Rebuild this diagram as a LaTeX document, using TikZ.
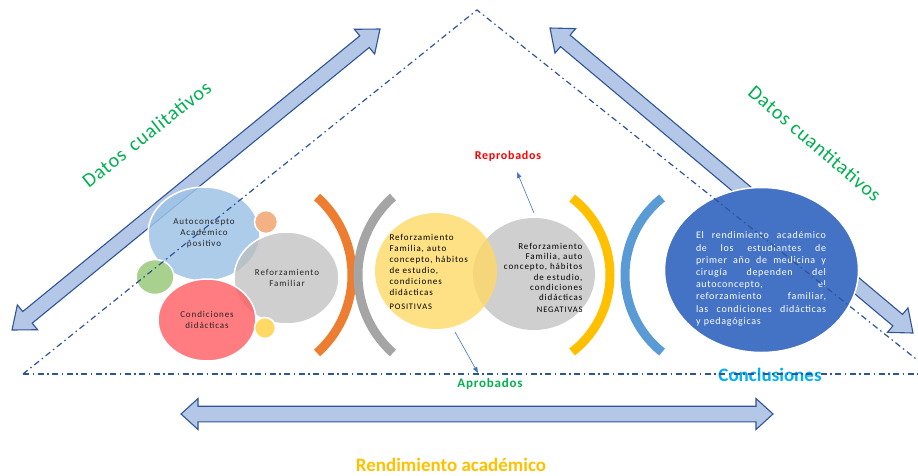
\documentclass[tikz,border=0pt]{standalone}
\usepackage{fontspec}
\setmainfont{Carlito}
\newfontfamily\lsfont[LetterSpace=10]{Carlito}
\newfontfamily\lsfontw[LetterSpace=7]{Carlito}
\newfontfamily\lsbig[LetterSpace=4]{Carlito}
\newfontfamily\lsbold[LetterSpace=6]{Carlito}
\usetikzlibrary{calc,shapes.geometric,arrows.meta}

\definecolor{ddblue}{HTML}{2F5597}
\definecolor{arrfill}{HTML}{B4C7E7}
\definecolor{cblue}{HTML}{9DC3E6}
\definecolor{cgray}{HTML}{BFBFBF}
\definecolor{cred}{HTML}{FF5B61}
\definecolor{cgreen}{HTML}{A9D18E}
\definecolor{corange}{HTML}{F4B183}
\definecolor{cyellow}{HTML}{FFD966}
\definecolor{arcorange}{HTML}{ED7D31}
\definecolor{arcgray}{HTML}{A5A5A5}
\definecolor{arcyellow}{HTML}{FFC000}
\definecolor{arcblue}{HTML}{5B9BD5}
\definecolor{darkc}{HTML}{4472C4}
\definecolor{tgreen}{HTML}{00B050}
\definecolor{tcyan}{HTML}{00B0F0}
\definecolor{tred}{HTML}{FF0000}
\definecolor{tgold}{HTML}{FFC000}

\tikzset{
  blockarrow/.style={fill=arrfill, draw=ddblue, line width=1.1pt, line join=miter},
  ddline/.style={draw=ddblue, line width=1.2pt, dash pattern=on 6pt off 3.5pt on 1.5pt off 3.5pt},
  bubble/.style={ellipse, draw=white, line width=1.5pt, inner sep=0pt},
  arcline/.style={line width=9pt},
  ptr/.style={draw=darkc, line width=0.6pt, -{Triangle[length=6pt,width=4.5pt]}},
  ctext/.style={font=\lsfont\fontsize{9}{11}\selectfont, text=black!85, align=center},
  bigtext/.style={font=\lsbig\fontsize{20}{22}\selectfont, text=tgreen},
}

\newcommand\blockarrow[5]{%
  \path[blockarrow] (#1)
   -- ($(#1)!#3!(#2)!#4!90:(#2)$)
   -- ($(#1)!#3!(#2)!#5!90:(#2)$)
   -- ($(#2)!#3!(#1)!#5!-90:(#1)$)
   -- ($(#2)!#3!(#1)!#4!-90:(#1)$)
   -- (#2)
   -- ($(#2)!#3!(#1)!#4!90:(#1)$)
   -- ($(#2)!#3!(#1)!#5!90:(#1)$)
   -- ($(#1)!#3!(#2)!#5!-90:(#2)$)
   -- ($(#1)!#3!(#2)!#4!-90:(#2)$)
   -- cycle;}
\newcommand\jline[1]{\hbox to 130pt{#1}}

\begin{document}
\begin{tikzpicture}[x=1pt,y=-1pt]
\useasboundingbox (0,0) rectangle (918,475);
\clip (0,0) rectangle (918,475);

% block arrows
\coordinate (LA1) at (12,330); \coordinate (LA2) at (380,29);
\coordinate (RA1) at (550,28); \coordinate (RA2) at (913,333);
\coordinate (HA1) at (181,414); \coordinate (HA2) at (773,414);
\blockarrow{LA1}{LA2}{20pt}{16pt}{7.5pt}
\blockarrow{RA1}{RA2}{20pt}{16pt}{7.5pt}
\blockarrow{HA1}{HA2}{17pt}{15.5pt}{7.8pt}

% left cluster
\node[bubble, fill=cblue, fill opacity=0.85, minimum width=112pt, minimum height=94pt] (auto) at (204,234) {};
\node[bubble, fill=cgreen, minimum width=38pt, minimum height=35pt] (green) at (155,277) {};
\node[bubble, fill=corange, minimum width=23pt, minimum height=23pt] (orange) at (266,222) {};
\node[bubble, fill=cgray, fill opacity=0.75, minimum width=105pt, minimum height=92pt] (refam) at (286.5,278) {};
\node[bubble, fill=cred, fill opacity=0.8, minimum width=98pt, minimum height=82pt] (cond) at (207,320) {};
\node[bubble, fill=cyellow, minimum width=21pt, minimum height=21pt] (yel) at (265,328) {};
\node[ctext] (autot) at (204,233.5) {Autoconcepto\\Académico\\positivo};
\node[ctext] (refamt) at (287,277.5) {Reforzamiento\\Familiar};
\node[ctext] (condt) at (207,320) {Condiciones\\didácticas};

% arcs
\draw[arcline, arcorange] ($(247.6,275)+(-48.3:104.4)$) arc[start angle=-48.3, end angle=48.3, radius=104.4];
\draw[arcline, arcgray] ($(462.4,275)+(131.7:104.4)$) arc[start angle=131.7, end angle=228.3, radius=104.4];
\draw[arcline, arcyellow] ($(513,275)+(-52.5:97)$) arc[start angle=-52.5, end angle=52.5, radius=97];
\draw[arcline, arcblue] ($(723.6,275)+(128.6:98.6)$) arc[start angle=128.6, end angle=231.4, radius=98.6];

% Venn
\node[bubble, draw=none, fill=cgray, fill opacity=0.75, minimum width=122pt, minimum height=112pt] (neg) at (534,274) {};
\node[bubble, draw=none, fill=cyellow, fill opacity=0.8, minimum width=122pt, minimum height=116pt] (pos) at (436,271) {};
\node[font=\lsfont\fontsize{9}{11}\selectfont, align=left, anchor=west] (post) at (386,272)
  {Reforzamiento\\Familia, auto\\concepto, hábitos\\de estudio,\\condiciones\\didácticas\\[3pt]{\fontsize{8.5}{10}\selectfont POSITIVAS}};
\node[font=\lsfont\fontsize{9}{10.2}\selectfont, align=right, anchor=east] (negt) at (586,278)
  {Reforzamiento\\Familia, auto\\concepto, hábitos\\de estudio,\\condiciones\\didácticas\\[2pt]{\fontsize{8.5}{10}\selectfont NEGATIVAS}};

% conclusion circle
\node[bubble, fill=darkc, minimum width=194pt, minimum height=165pt] (concl) at (761.5,270) {};
\node[font=\lsfontw\fontsize{10}{12.2}\selectfont, text=white, text width=130pt, align=left] (conclt) at (761,279)
  {\jline{El\hfill rendimiento\hfill académico}
   \jline{de\hfill los\hfill estudiantes\hfill de}
   \jline{primer\hfill año\hfill de\hfill medicina\hfill y}
   \jline{cirugía\hfill dependen\hfill del}
   \jline{autoconcepto,\hfill el}
   \jline{reforzamiento\hfill familiar,}
   \jline{las\hfill condiciones\hfill didácticas}
   \jline{y pedagógicas\hfill}};

% labels
\node[bigtext, rotate=38.4] (dcual) at (146.5,134) {Datos\hspace{3pt} cualitativos};
\node[bigtext, rotate=-40.5] (dcuan) at (815,143.5) {Datos cuantitativos};
\node[font=\lsbold\bfseries\fontsize{12}{14}\selectfont, text=tred] (repro) at (508,156) {Reprobados};
\node[font=\lsbold\bfseries\fontsize{13}{15}\selectfont, text=tgreen] (apro) at (490,384) {Aprobados};
\node[font=\bfseries\fontsize{19}{21}\selectfont, text=tcyan] (conc) at (770,375) {Conclusiones};
\node[font=\bfseries\fontsize{19}{21}\selectfont, text=tgold] (rend) at (451,465) {Rendimiento académico};

% pointers
\coordinate (rtail) at (534,213); \coordinate (rtip) at (517,172);
\coordinate (atail) at (455,332); \coordinate (atip) at (478,373);
\draw[ptr] (rtail) -- (rtip);
\draw[ptr] (atail) -- (atip);

% dash-dot triangle
\coordinate (apex) at (477,10);
\coordinate (bl) at (23,374);
\coordinate (br) at (935,374);
\draw[ddline] (bl) -- (apex) -- (br);
\draw[ddline] (bl) -- (br);
\end{tikzpicture}
\end{document}
